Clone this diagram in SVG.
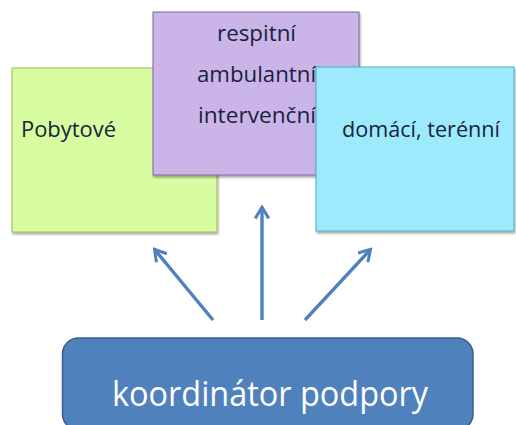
<svg xmlns="http://www.w3.org/2000/svg" width="516" height="425" viewBox="0 0 516 425">
  <defs>
    <marker id="arrowhead" viewBox="0 0 10 10" refX="8" refY="5" markerWidth="16" markerHeight="16" markerUnits="userSpaceOnUse" orient="auto">
      <path d="M1.5,0.8 L8.5,5 L1.5,9.2" fill="none" stroke="#4f81bd" stroke-width="1.9" stroke-linejoin="miter"/>
    </marker>
    <filter id="shadow" x="-10%" y="-10%" width="125%" height="125%">
      <feGaussianBlur in="SourceAlpha" stdDeviation="1.2"/>
      <feOffset dx="1" dy="1.5" result="b"/>
      <feComponentTransfer><feFuncA type="linear" slope="0.35"/></feComponentTransfer>
      <feMerge><feMergeNode/><feMergeNode in="SourceGraphic"/></feMerge>
    </filter>
  </defs>
  <style>
    .label { font-family: "Open Sans", "Noto Sans", "DejaVu Sans", sans-serif; fill: #17233d; font-size: 21.5px; }
    .coord { font-family: "Open Sans", "Noto Sans", "DejaVu Sans", sans-serif; fill: #ffffff; font-size: 34px; }
    .conn { stroke: #4f81bd; stroke-width: 3.4; fill: none; marker-end: url(#arrowhead); }
  </style>
  <rect width="516" height="425" fill="#ffffff"/>

  <!-- residential care -->
  <g id="pobytove">
    <rect x="12" y="68" width="205" height="164" fill="#d8fca0" stroke="#9cbb5c" stroke-width="1" filter="url(#shadow)"/>
    <text class="label" x="21" y="137" textLength="95" lengthAdjust="spacingAndGlyphs">Pobytové</text>
  </g>

  <!-- respite / outpatient / intervention services -->
  <g id="ambulantni">
    <rect x="153" y="12" width="206" height="163" fill="#cbb5e8" stroke="#8064a2" stroke-width="1" filter="url(#shadow)"/>
    <text class="label" x="217" y="41" textLength="79" lengthAdjust="spacingAndGlyphs">respitní</text>
    <text class="label" x="197" y="82" textLength="119" lengthAdjust="spacingAndGlyphs">ambulantní</text>
    <text class="label" x="198" y="123" textLength="118" lengthAdjust="spacingAndGlyphs">intervenční</text>
  </g>

  <!-- home and field services -->
  <g id="domaci">
    <rect x="316" y="67" width="198" height="164" fill="#9deafd" stroke="#4bacc6" stroke-width="1" filter="url(#shadow)"/>
    <text class="label" x="342" y="137" textLength="158" lengthAdjust="spacingAndGlyphs">domácí, terénní</text>
  </g>

  <!-- support coordinator -->
  <g id="koordinator">
    <rect x="62.5" y="338" width="410.5" height="92" rx="16" ry="16" fill="#4f81bd" stroke="#385d8a" stroke-width="1.5"/>
    <text class="coord" x="112" y="406" textLength="316" lengthAdjust="spacingAndGlyphs">koordinátor podpory</text>
  </g>

  <g id="connectors">
    <line class="conn" x1="213" y1="320" x2="155" y2="250"/>
    <line class="conn" x1="262" y1="320" x2="262" y2="208"/>
    <line class="conn" x1="305" y1="320" x2="370" y2="250"/>
  </g>
</svg>
